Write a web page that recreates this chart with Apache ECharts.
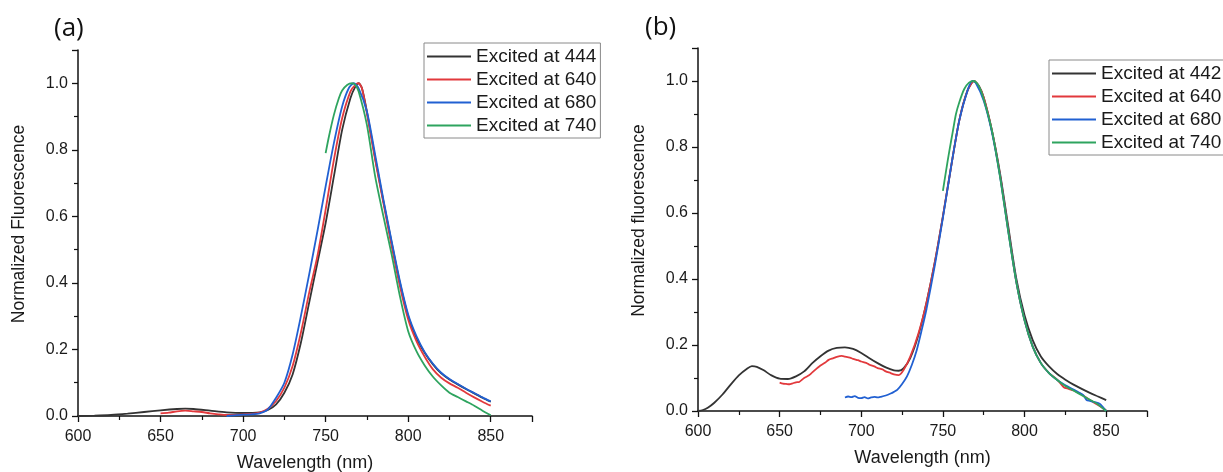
<!DOCTYPE html>
<html>
<head>
<meta charset="utf-8">
<script src="https://cdn.jsdelivr.net/npm/echarts@6/dist/echarts.min.js"></script>
<style>
html,body{margin:0;padding:0;background:#fff;}
#chart{width:1223px;height:472px;}
</style>
</head>
<body>
<div id="chart"></div>
<script>
// ---- Panel (a) data ----
const aNames = ['Excited at 444', 'Excited at 640', 'Excited at 680', 'Excited at 740'];
const a444X = [600,610,620,630,640,650,660,665,670,680,690,700,710,715,720,725,730,735,740,745,750,755,760,765,768,770,772,775,780,785,790,795,800,805,810,815,820,825,830,835,840,845,850];
const a444Y = [0,0.001,0.003,0.007,0.012,0.017,0.021,0.022,0.021,0.016,0.011,0.009,0.011,0.018,0.035,0.07,0.125,0.22,0.34,0.46,0.58,0.72,0.86,0.955,0.99,1.0,0.985,0.915,0.775,0.645,0.52,0.40,0.30,0.235,0.19,0.155,0.128,0.11,0.095,0.081,0.068,0.055,0.043];
const a640X = [650,655,660,665,670,675,680,685,690,695,700,705,710,715,720,725,730,735,740,745,750,755,760,765,768,770,772,775,780,785,790,795,800,805,810,815,820,825,830,835,840,845,850];
const a640Y = [0.008,0.010,0.014,0.016,0.014,0.012,0.008,0.005,0.003,0.003,0.005,0.006,0.010,0.022,0.045,0.085,0.15,0.25,0.37,0.48,0.62,0.77,0.895,0.975,0.995,1.0,0.985,0.91,0.77,0.64,0.51,0.39,0.29,0.225,0.178,0.14,0.115,0.098,0.085,0.07,0.056,0.043,0.031];
const a680X = [690,695,700,705,710,715,720,725,730,735,740,745,750,755,760,764,767,770,775,780,785,790,795,800,805,810,815,820,825,830,835,840,845,850];
const a680Y = [0,0.002,0.004,0.005,0.008,0.02,0.055,0.10,0.185,0.30,0.425,0.555,0.69,0.82,0.93,0.985,1.0,0.985,0.915,0.785,0.65,0.525,0.405,0.305,0.24,0.192,0.157,0.13,0.111,0.096,0.082,0.069,0.056,0.044];
const a740X = [750,752,755,758,760,763,766,768,770,775,780,785,790,795,800,805,810,815,820,825,830,835,840,845,850];
const a740Y = [0.79,0.84,0.905,0.955,0.978,0.995,1.0,0.995,0.975,0.875,0.72,0.60,0.485,0.36,0.255,0.195,0.152,0.118,0.092,0.07,0.057,0.044,0.031,0.016,0.002];

// ---- Panel (b) data ----
const bNames = ['Excited at 442', 'Excited at 640', 'Excited at 680', 'Excited at 740'];
const b442X = [600,603,606,610,615,620,625,630,633,636,640,645,650,655,660,665,670,675,680,685,690,695,700,705,710,715,720,723,726,730,735,740,745,750,755,760,765,769,772,775,780,785,790,795,800,805,810,815,820,825,830,835,840,845,850];
const b442Y = [0,0.003,0.01,0.025,0.05,0.08,0.108,0.128,0.136,0.134,0.124,0.108,0.098,0.097,0.105,0.12,0.145,0.166,0.183,0.191,0.193,0.188,0.176,0.16,0.145,0.132,0.123,0.122,0.13,0.16,0.23,0.33,0.45,0.59,0.74,0.88,0.97,1.0,0.985,0.95,0.85,0.72,0.56,0.40,0.29,0.215,0.165,0.135,0.112,0.095,0.08,0.067,0.055,0.044,0.033];
const b640X = [650,652,654,656,658,660,662,665,668,670,673,675,678,680,683,685,688,690,693,695,698,700,703,705,708,710,713,715,718,720,723,726,730,735,740,745,750,755,760,765,769,772,775,780,785,790,795,800,805,810,815,820,824,827,830,835,840,845,850];
const b640Y = [0.086,0.083,0.082,0.081,0.084,0.087,0.088,0.1,0.108,0.117,0.13,0.138,0.147,0.155,0.16,0.164,0.167,0.165,0.162,0.158,0.154,0.15,0.146,0.14,0.135,0.13,0.126,0.12,0.115,0.111,0.109,0.125,0.165,0.235,0.33,0.45,0.59,0.74,0.88,0.97,1.0,0.985,0.95,0.85,0.715,0.55,0.39,0.275,0.195,0.145,0.115,0.095,0.072,0.067,0.062,0.05,0.033,0.018,0.002];
const b680X = [690,692,694,696,698,700,702,704,706,708,710,712,715,718,720,722,725,728,731,734,737,740,745,750,755,760,765,768,770,775,780,785,790,795,800,805,810,815,820,825,830,833,836,838,840,843,846,848,850];
const b680Y = [0.041,0.044,0.042,0.045,0.040,0.039,0.042,0.038,0.041,0.043,0.041,0.043,0.047,0.053,0.058,0.064,0.082,0.105,0.14,0.185,0.245,0.31,0.44,0.585,0.74,0.88,0.97,1.0,0.995,0.94,0.845,0.71,0.545,0.39,0.275,0.195,0.145,0.115,0.094,0.078,0.065,0.057,0.048,0.033,0.031,0.027,0.022,0.012,0.0];
const b740X = [750,752,754,756,758,760,763,766,769,772,775,780,785,790,795,800,805,810,815,820,825,830,835,840,845,850];
const b740Y = [0.667,0.73,0.79,0.845,0.9,0.935,0.975,0.995,1.0,0.985,0.945,0.85,0.71,0.545,0.39,0.275,0.195,0.145,0.115,0.094,0.076,0.062,0.048,0.034,0.02,0.0];

const xTicksMin = 600, xTicksMax = 875, xTickStep = 50;
const yTicksMin = 0, yTicksMax = 1.1, yTickStep = 0.2;
const colors = ['#333333', '#e2393c', '#2160d2', '#2ea45f'];

function zip(xs, ys) { return xs.map((x, i) => [x, ys[i]]); }

const FONT = 'Liberation Sans, Arial, sans-serif';
function xAxisFor(grid) {
  return {
    type: 'value', gridIndex: grid, min: xTicksMin, max: xTicksMax, interval: xTickStep,
    name: 'Wavelength (nm)', nameLocation: 'middle', nameGap: 38,
    nameTextStyle: { fontFamily: FONT, fontSize: 18, color: '#1a1a1a' },
    axisLine: { show: true, onZero: false, lineStyle: { color: '#111', width: 1.5 } },
    axisTick: { show: true, inside: false, length: 6, lineStyle: { color: '#111', width: 1.3 } },
    minorTick: { show: true, splitNumber: 2, length: 4, lineStyle: { color: '#111', width: 1.2 } },
    axisLabel: { showMaxLabel: false, margin: 13, fontFamily: FONT, fontSize: 16, color: '#1a1a1a' },
    splitLine: { show: false }
  };
}
function yAxisFor(grid, title) {
  return {
    type: 'value', gridIndex: grid, min: yTicksMin, max: yTicksMax, interval: yTickStep,
    name: title, nameLocation: 'middle', nameGap: 50, nameRotate: 90,
    nameTextStyle: { fontFamily: FONT, fontSize: 17.5, color: '#1a1a1a', padding: [0, 0, 0, 18] },
    axisLine: { show: true, onZero: false, lineStyle: { color: '#111', width: 1.5 } },
    axisTick: { show: true, inside: false, length: 6, lineStyle: { color: '#111', width: 1.3 } },
    minorTick: { show: true, splitNumber: 2, length: 4, lineStyle: { color: '#111', width: 1.2 } },
    axisLabel: { showMaxLabel: false, margin: 10, fontFamily: FONT, fontSize: 16, color: '#1a1a1a',
                 formatter: v => v.toFixed(1) },
    splitLine: { show: false }
  };
}
function line(name, xs, ys, idx, grid) {
  return {
    type: 'line', name: name, xAxisIndex: grid, yAxisIndex: grid,
    data: zip(xs, ys), showSymbol: false, symbol: 'none', smooth: 0.25,
    lineStyle: { color: colors[idx], width: 1.8 }, itemStyle: { color: colors[idx] },
    emphasis: { disabled: true }, animation: false
  };
}
function legendFor(names, left, top) {
  return {
    orient: 'vertical', left: left, top: top, data: names,
    icon: 'rect', itemWidth: 44, itemHeight: 2.2, itemGap: 4,
    padding: [4, 4, 3, 3], borderColor: '#8a8a8a', borderWidth: 1, backgroundColor: '#fff',
    textStyle: { fontFamily: FONT, fontSize: 19, color: '#1a1a1a', lineHeight: 19 },
    selectedMode: false
  };
}

const chart = echarts.init(document.getElementById('chart'), null, { renderer: 'canvas' });
chart.setOption({
  backgroundColor: '#ffffff',
  animation: false,
  grid: [
    { left: 78, top: 50, width: 454, height: 366, containLabel: false, outerBoundsMode: 'none' },
    { left: 698, top: 48, width: 449, height: 363, containLabel: false, outerBoundsMode: 'none' }
  ],
  xAxis: [xAxisFor(0), xAxisFor(1)],
  yAxis: [yAxisFor(0, 'Normalized Fluorescence'), yAxisFor(1, 'Normalized fluorescence')],
  legend: [legendFor(aNames, 424, 43), legendFor(bNames, 1049, 60)],
  graphic: [
    { type: 'text', left: 54, top: 16, style: { text: '(a)', fontFamily: 'Open Sans, sans-serif', fontSize: 26, fill: '#111' } },
    { type: 'text', left: 645, top: 15, style: { text: '(b)', fontFamily: 'Open Sans, sans-serif', fontSize: 26, fill: '#111' } }
  ],
  series: [
    line(aNames[0], a444X, a444Y, 0, 0),
    line(aNames[1], a640X, a640Y, 1, 0),
    line(aNames[2], a680X, a680Y, 2, 0),
    line(aNames[3], a740X, a740Y, 3, 0),
    line(bNames[0], b442X, b442Y, 0, 1),
    line(bNames[1], b640X, b640Y, 1, 1),
    line(bNames[2], b680X, b680Y, 2, 1),
    line(bNames[3], b740X, b740Y, 3, 1)
  ]
});
</script>
</body>
</html>
